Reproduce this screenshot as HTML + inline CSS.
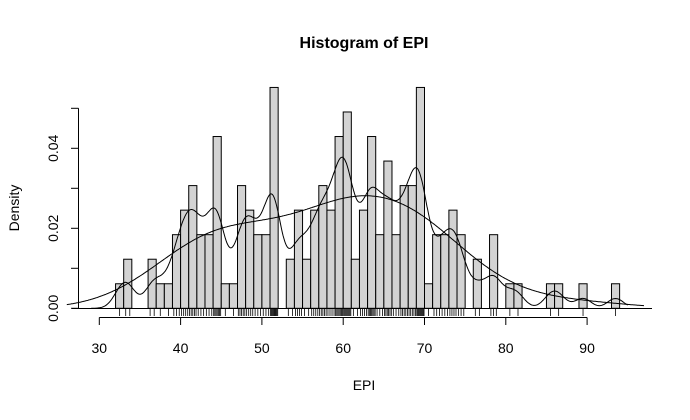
<!DOCTYPE html>
<html><head><meta charset="utf-8"><style>
body{margin:0;background:#fff}
svg text{font-family:"Liberation Sans",Arial,sans-serif;fill:#000}
</style></head><body>
<svg id="c" width="690" height="415" xmlns="http://www.w3.org/2000/svg">
<text x="364" y="48" font-size="16" font-weight="bold" text-anchor="middle">Histogram of EPI</text>
<text x="364" y="390" font-size="14" text-anchor="middle">EPI</text>
<text x="19" y="208" font-size="14" text-anchor="middle" transform="rotate(-90 19 208)">Density</text>
<g id="bars"></g>
<g id="curves"></g>
<g id="rug"></g>
<g id="xaxis"></g>
<g id="yaxis"></g>
</svg>
<script>
const binStarts=[32,33,34,35,36,37,38,39,40,41,42,43,44,45,46,47,48,49,50,51,52,53,54,55,56,57,58,59,60,61,62,63,64,65,66,67,68,69,70,71,72,73,74,75,76,77,78,79,80,81,82,83,84,85,86,87,88,89,90,91,92,93];
const counts=[1,2,0,0,2,1,1,3,4,5,3,3,7,1,1,5,4,3,3,9,0,2,4,2,4,5,4,7,8,2,4,7,3,6,3,5,5,9,1,3,3,4,3,0,2,0,3,0,1,1,0,0,0,1,1,0,0,1,0,0,0,1];
const xTicks=[30,40,50,60,70,80,90];
const yTicks=[0,0.01,0.02,0.03,0.04,0.05];
const yLabels=["0.00","","0.02","","0.04",""];
const NS="http://www.w3.org/2000/svg";
const X=v=>99.3+(v-30)*8.13;
const Y=d=>308.3-d*4000;
const n=counts.reduce((a,b)=>a+b,0);
function mk(t,a,p){const e=document.createElementNS(NS,t);for(const k in a)e.setAttribute(k,a[k]);p.appendChild(e);return e;}
const bars=document.getElementById('bars');
binStarts.forEach((b,i)=>{if(!counts[i])return;
 const r=mk('rect',{x:X(b),y:Y(counts[i]/n),width:X(b+1)-X(b),height:Y(0)-Y(counts[i]/n),fill:'#d3d3d3',stroke:'#000','stroke-width':1},bars);
 
 });
const pts=[];binStarts.forEach((b,i)=>{for(let j=0;j<counts[i];j++)pts.push(b+(j+0.5)/counts[i]);});
function kde(bw,x0,x1){let d='';for(let x=x0;x<=x1;x+=0.1){let s=0;for(const p of pts){const z=(x-p)/bw;s+=Math.exp(-0.5*z*z);}s/=n*bw*Math.sqrt(2*Math.PI);d+=(d?'L':'M')+X(x).toFixed(1)+','+Y(s).toFixed(1);}return d;}
const cv=document.getElementById('curves');
const c1=mk('path',{d:kde(5.3,26,97),fill:'none',stroke:'#000','stroke-width':1},cv);


const c2=mk('path',{d:kde(1.0,29,95),fill:'none',stroke:'#000','stroke-width':1},cv);


const rug=document.getElementById('rug');
pts.forEach(p=>{const l=mk('line',{x1:X(p),x2:X(p),y1:308.3,y2:316,stroke:'#000','stroke-width':0.8},rug);
 
 });
mk('line',{x1:72,x2:652,y1:308.5,y2:308.5,stroke:'#000','stroke-width':1},rug);
const xa=document.getElementById('xaxis');
mk('line',{x1:X(30),x2:X(90),y1:317.5,y2:317.5,stroke:'#000'},xa);
xTicks.forEach(t=>{mk('line',{x1:X(t),x2:X(t),y1:317.5,y2:325,stroke:'#000'},xa);
 const tx=mk('text',{x:X(t),y:353,'font-size':14,'text-anchor':'middle'},xa);tx.textContent=t;
 
 });
const ya=document.getElementById('yaxis');
mk('line',{x1:78.5,x2:78.5,y1:Y(0.05),y2:Y(0),stroke:'#000'},ya);
yTicks.forEach((t,i)=>{mk('line',{x1:71,x2:78.5,y1:Y(t),y2:Y(t),stroke:'#000'},ya);
 if(yLabels[i]){const tx=mk('text',{x:58,y:Y(t),'font-size':14,'text-anchor':'middle',transform:`rotate(-90 58 ${Y(t)})`},ya);tx.textContent=yLabels[i];
 
 }});
</script>
</body></html>
